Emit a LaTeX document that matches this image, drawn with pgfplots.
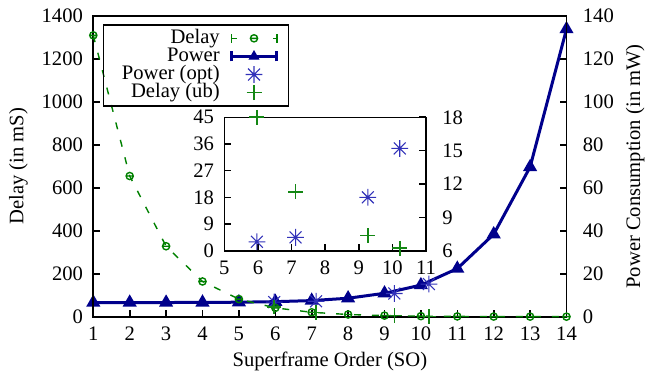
\documentclass[border=0pt]{standalone}
\usepackage{fontspec}
\setmainfont{Liberation Serif}
\usepackage{pgfplots}
\usepackage{pgfplotstable}
\pgfplotsset{compat=1.18}

\definecolor{delaycol}{RGB}{0,128,0}
\definecolor{ubcol}{RGB}{20,135,20}
\definecolor{powcol}{RGB}{0,0,140}
\definecolor{optcol}{RGB}{50,50,185}

\newcommand{\chartfont}{\fontsize{10.3bp}{11bp}\selectfont}

% gnuplot-style eight-armed star
\pgfdeclareplotmark{gstar}{%
  \pgfpathmoveto{\pgfqpoint{-\pgfplotmarksize}{0pt}}%
  \pgfpathlineto{\pgfqpoint{\pgfplotmarksize}{0pt}}%
  \pgfpathmoveto{\pgfqpoint{0pt}{-\pgfplotmarksize}}%
  \pgfpathlineto{\pgfqpoint{0pt}{\pgfplotmarksize}}%
  \pgfpathmoveto{\pgfqpoint{-0.7071\pgfplotmarksize}{-0.7071\pgfplotmarksize}}%
  \pgfpathlineto{\pgfqpoint{0.7071\pgfplotmarksize}{0.7071\pgfplotmarksize}}%
  \pgfpathmoveto{\pgfqpoint{-0.7071\pgfplotmarksize}{0.7071\pgfplotmarksize}}%
  \pgfpathlineto{\pgfqpoint{0.7071\pgfplotmarksize}{-0.7071\pgfplotmarksize}}%
  \pgfusepathqstroke}
% open circle crossed by a short bar
\pgfdeclareplotmark{thetao}{%
  \pgfpathcircle{\pgfpointorigin}{\pgfplotmarksize}%
  \pgfpathmoveto{\pgfqpoint{-\pgfplotmarksize}{0pt}}%
  \pgfpathlineto{\pgfqpoint{\pgfplotmarksize}{0pt}}%
  \pgfusepathqstroke}

% SO, delay (ms), power (mW)
\pgfplotstableread{
so delay power
1  1310  6.6
2  655   6.6
3  328   6.6
4  164   6.65
5  82    6.75
6  41    7.0
7  20.5  7.5
8  10.2  8.6
9  5.1   10.9
10 2.6   14.7
11 1.3   22.4
12 0.64  38.4
13 0.32  69.7
14 0.16  133.9
}\maindata

\pgfplotstableread{
so power
5.97  6.8
7.12  7.2
9.27  10.8
10.22 15.2
}\optdata

\pgfplotstableread{
so delay
5.97  45
7.12  19.9
9.27  5.1
10.22 0.8
}\ubdata

\pgfplotsset{
  every axis/.append style={
    font=\chartfont,
    tick label style={font=\chartfont},
    label style={font=\chartfont},
    /pgf/number format/assume math mode=true,
    /pgf/number format/1000 sep={},
    scale only axis,
    anchor=south west,
    axis line style={line width=0.8bp},
    major tick length=3.5bp,
    tick align=inside,
    every tick/.style={black, line width=0.8bp},
    clip=false,
  },
  mainpos/.style={at={(46.65bp,28.15bp)}, width=236.6bp, height=150.35bp, xmin=1, xmax=14},
  insetpos/.style={at={(112.15bp,61.15bp)}, width=100.85bp, height=66.7bp, xmin=5, xmax=11},
  leftlabels/.style={yticklabel style={anchor=east, inner sep=0pt, xshift=-5bp}},
  rightlabels/.style={yticklabel style={anchor=west, inner sep=0pt, xshift=8bp}},
  bottomlabels/.style={xticklabel style={anchor=center, inner sep=0pt, yshift=-8.5bp}},
}

\begin{document}
\begin{tikzpicture}
\useasboundingbox (0,0) rectangle (325bp,186.5bp);

% power consumption, right-hand scale
\begin{axis}[mainpos, ymin=0, ymax=140,
  hide x axis, ytick pos=right, yticklabel pos=right, rightlabels,
  ytick={0,20,...,140},
  ylabel={Power Consumption (in mW)},
  ylabel style={at={(axis description cs:1.145,0.5)}, anchor=center},
]
\addplot[powcol, line width=1.5bp, mark=triangle*, mark size=2.6bp, mark options={solid}]
  table[x=so, y=power] {\maindata};
\addplot[optcol, only marks, mark=gstar, mark size=4.2bp, mark options={optcol, line width=0.55bp}]
  table[x=so, y=power] {\optdata};
\end{axis}

% delay, left-hand scale
\begin{axis}[mainpos, ymin=0, ymax=1400,
  ytick pos=left, xtick pos=bottom, leftlabels, bottomlabels,
  xtick={1,...,14}, ytick={0,200,...,1400},
  xlabel={Superframe Order (SO)},
  xlabel style={at={(axis description cs:0.5,-0.1663)}, anchor=base},
  ylabel={Delay (in mS)},
  ylabel style={at={(axis description cs:-0.158,0.5)}, anchor=center},
  legend cell align=right, legend plot pos=right,
  legend style={at={(axis description cs:0.0211,0.972)}, anchor=north west,
    font=\chartfont,
    draw=black, line width=0.6bp, fill=none, inner xsep=5bp, inner ysep=1.5bp,
    row sep=-1.25bp, column sep=5bp,
    nodes={inner sep=0pt, text height=7.7bp, text depth=2.6bp}},
]
\addlegendimage{legend image code/.code={
  \draw[delaycol, line width=0.7bp] (0bp,-2.2bp)--(0bp,2.2bp) (22.8bp,-2.2bp)--(22.8bp,2.2bp)
    (0bp,0bp)--(2.8bp,0bp) (21.1bp,0bp)--(22.8bp,0bp);
  \draw[delaycol, line width=0.7bp] (11.4bp,0bp) circle[radius=1.8bp] (9.6bp,0bp)--(13.2bp,0bp);
}}
\addlegendimage{legend image code/.code={
  \draw[powcol, line width=1.5bp] (0bp,-2.5bp)--(0bp,2.5bp) (22.8bp,-2.5bp)--(22.8bp,2.5bp)
    (0bp,0bp)--(22.8bp,0bp);
  \fill[powcol] (11.4bp,2.6bp) -- (13.65bp,-1.3bp) -- (9.15bp,-1.3bp) -- cycle;
}}
\addlegendimage{legend image code/.code={
  \draw[optcol, line width=0.55bp] (7.2bp,0bp)--(15.6bp,0bp) (11.4bp,-4.2bp)--(11.4bp,4.2bp)
    (8.43bp,-2.97bp)--(14.37bp,2.97bp) (8.43bp,2.97bp)--(14.37bp,-2.97bp);
}}
\addlegendimage{legend image code/.code={
  \draw[ubcol, line width=0.75bp] (7.65bp,0bp)--(15.15bp,0bp) (11.4bp,-3.75bp)--(11.4bp,3.75bp);
}}
\legend{Delay, Power, \hspace*{4bp}Power (opt), Delay (ub)}

\addplot[forget plot, delaycol, line width=0.7bp, dash pattern=on 3.5bp off 5.5bp,
  mark=thetao, mark size=1.8bp, mark options={solid}]
  table[x=so, y=delay] {\maindata};
\addplot[forget plot, ubcol, only marks, mark=+, mark size=3.6bp, mark options={ubcol, line width=0.75bp}]
  table[x=so, y=delay] {\ubdata};
\end{axis}

% inset: upper bound on delay, left-hand scale
\begin{axis}[insetpos, ymin=0, ymax=45,
  axis background/.style={fill=white},
  ytick pos=left, xtick pos=bottom, leftlabels, bottomlabels,
  xtick={5,...,11}, ytick={0,9,...,45},
]
\addplot[ubcol, only marks, mark=+, mark size=3.75bp, mark options={ubcol, line width=0.85bp}]
  table[x=so, y=delay] {\ubdata};
\end{axis}

% inset: optimal power, right-hand scale
\begin{axis}[insetpos, ymin=6, ymax=18,
  hide x axis, ytick pos=right, yticklabel pos=right, rightlabels,
  ytick={6,9,...,18},
]
\addplot[optcol, only marks, mark=gstar, mark size=4.2bp, mark options={optcol, line width=0.55bp}]
  table[x=so, y=power] {\optdata};
\end{axis}
\end{tikzpicture}
\end{document}
